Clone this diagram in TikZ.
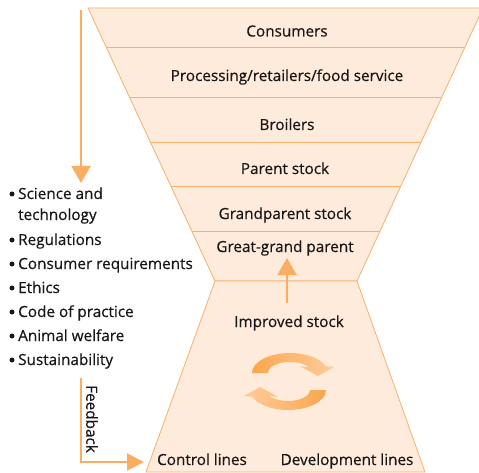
\documentclass[tikz,border=0pt]{standalone}
\usepackage{fontspec}
\setmainfont{Open Sans}[BoldFont=Open Sans, BoldFeatures={FakeBold=0.5}]
\usetikzlibrary{arrows.meta,calc}
\definecolor{fillO}{HTML}{FEEBDB}
\definecolor{lineO}{HTML}{F8B06C}
\definecolor{arrO}{HTML}{FBAE62}
\definecolor{darkO}{HTML}{FBA64C}
\definecolor{lightO}{HTML}{FDCC9C}
\definecolor{txt}{HTML}{1A1718}
\tikzset{
  lab/.style={font=\fontsize{15.3}{17}\selectfont\bfseries, text=txt, inner sep=0pt, anchor=base},
  blt/.style={font=\fontsize{15.3}{17}\selectfont\bfseries, text=txt, inner sep=0pt, anchor=base west},
  dotb/.style={fill=txt, circle, inner sep=0pt, minimum size=5pt},
  edgeline/.style={draw=lineO, line width=0.8pt},
  bigarrow/.style={draw=arrO, line width=2.2pt, -{Triangle[width=19pt,length=17pt]}},
}
\begin{document}
\begin{tikzpicture}[x=1pt,y=1pt]
\clip (0,0) rectangle (479,-473);
\fill[white] (0,0) rectangle (479,-473);
% funnel corners
\coordinate (TL) at (88,-8);
\coordinate (TR) at (483,-8);
\coordinate (WL) at (215,-281);
\coordinate (WR) at (357,-281);
\coordinate (BL) at (146,-472);
\coordinate (BR) at (425,-472);
% upper funnel
\filldraw[fill=fillO, edgeline] (TL) -- (TR) -- (WR) -- (WL) -- cycle;
% lower trapezoid
\filldraw[fill=fillO, edgeline] (WL) -- (WR) -- (BR) -- (BL) -- cycle;
% separators
\foreach \t in {0.1429,0.3260,0.4908,0.6520,0.8168}
  \draw[edgeline] ($(TL)!\t!(WL)$) -- ($(TR)!\t!(WR)$);
% labels
\node[lab] (cons) at (287,-36.5) {Consumers};
\node[lab] (proc) at (287,-81) {Processing/retailers/food service};
\node[lab] (broi) at (287,-130) {Broilers};
\node[lab] (par) at (285,-174) {Parent stock};
\node[lab] (gpar) at (285,-219) {Grandparent stock};
\node[lab] (ggp) at (285,-252) {Great-grand parent};
\node[lab] (imp) at (289,-327) {Improved stock};
\node[lab] (ctrl) at (202,-465) {Control lines};
\node[lab] (dev) at (347,-465) {Development lines};
% up arrow
\coordinate (u1) at (287,-303);
\coordinate (u2) at (287,-258);
\draw[bigarrow] (u1) -- (u2);
% cycle arrows
\shade[left color=darkO, right color=lightO]
  (252,-373) arc[start angle=180,end angle=20,x radius=38,y radius=20]
  -- (334,-367) -- (318,-376) -- (300,-366) -- (309,-367.5)
  arc[start angle=30,end angle=180,x radius=22,y radius=11] -- cycle;
\shade[left color=lightO, right color=darkO]
  (326,-390) arc[start angle=0,end angle=-160,x radius=38,y radius=20]
  -- (244,-396) -- (260,-387) -- (278,-397) -- (269,-395.5)
  arc[start angle=210,end angle=360,x radius=22,y radius=11] -- cycle;
% left arrow
\coordinate (a1) at (81,-10);
\coordinate (a2) at (81,-183);
\draw[bigarrow] (a1) -- (a2);
% bullets
\foreach \yy/\tx in {199/Science and, 245/Regulations, 269/Consumer requirements, 293/Ethics, 317/Code of practice, 341/Animal welfare, 365/Sustainability}{
  \node[dotb] at (12,-\yy+5) {};
  \node[blt] at (18,-\yy) {\tx};
}
\node[blt] (tech) at (18,-220) {technology};
% feedback arrow
\coordinate (f1) at (81,-378);
\coordinate (f2) at (144,-462);
\draw[draw=arrO, line width=2.2pt, -{Triangle[width=17pt,length=17pt]}] (f1) |- (f2);
\node[font=\fontsize{15.3}{17}\selectfont\bfseries, text=txt, inner sep=0pt, rotate=-90] (fb) at (92,-419) {Feedback};
\end{tikzpicture}
\end{document}
